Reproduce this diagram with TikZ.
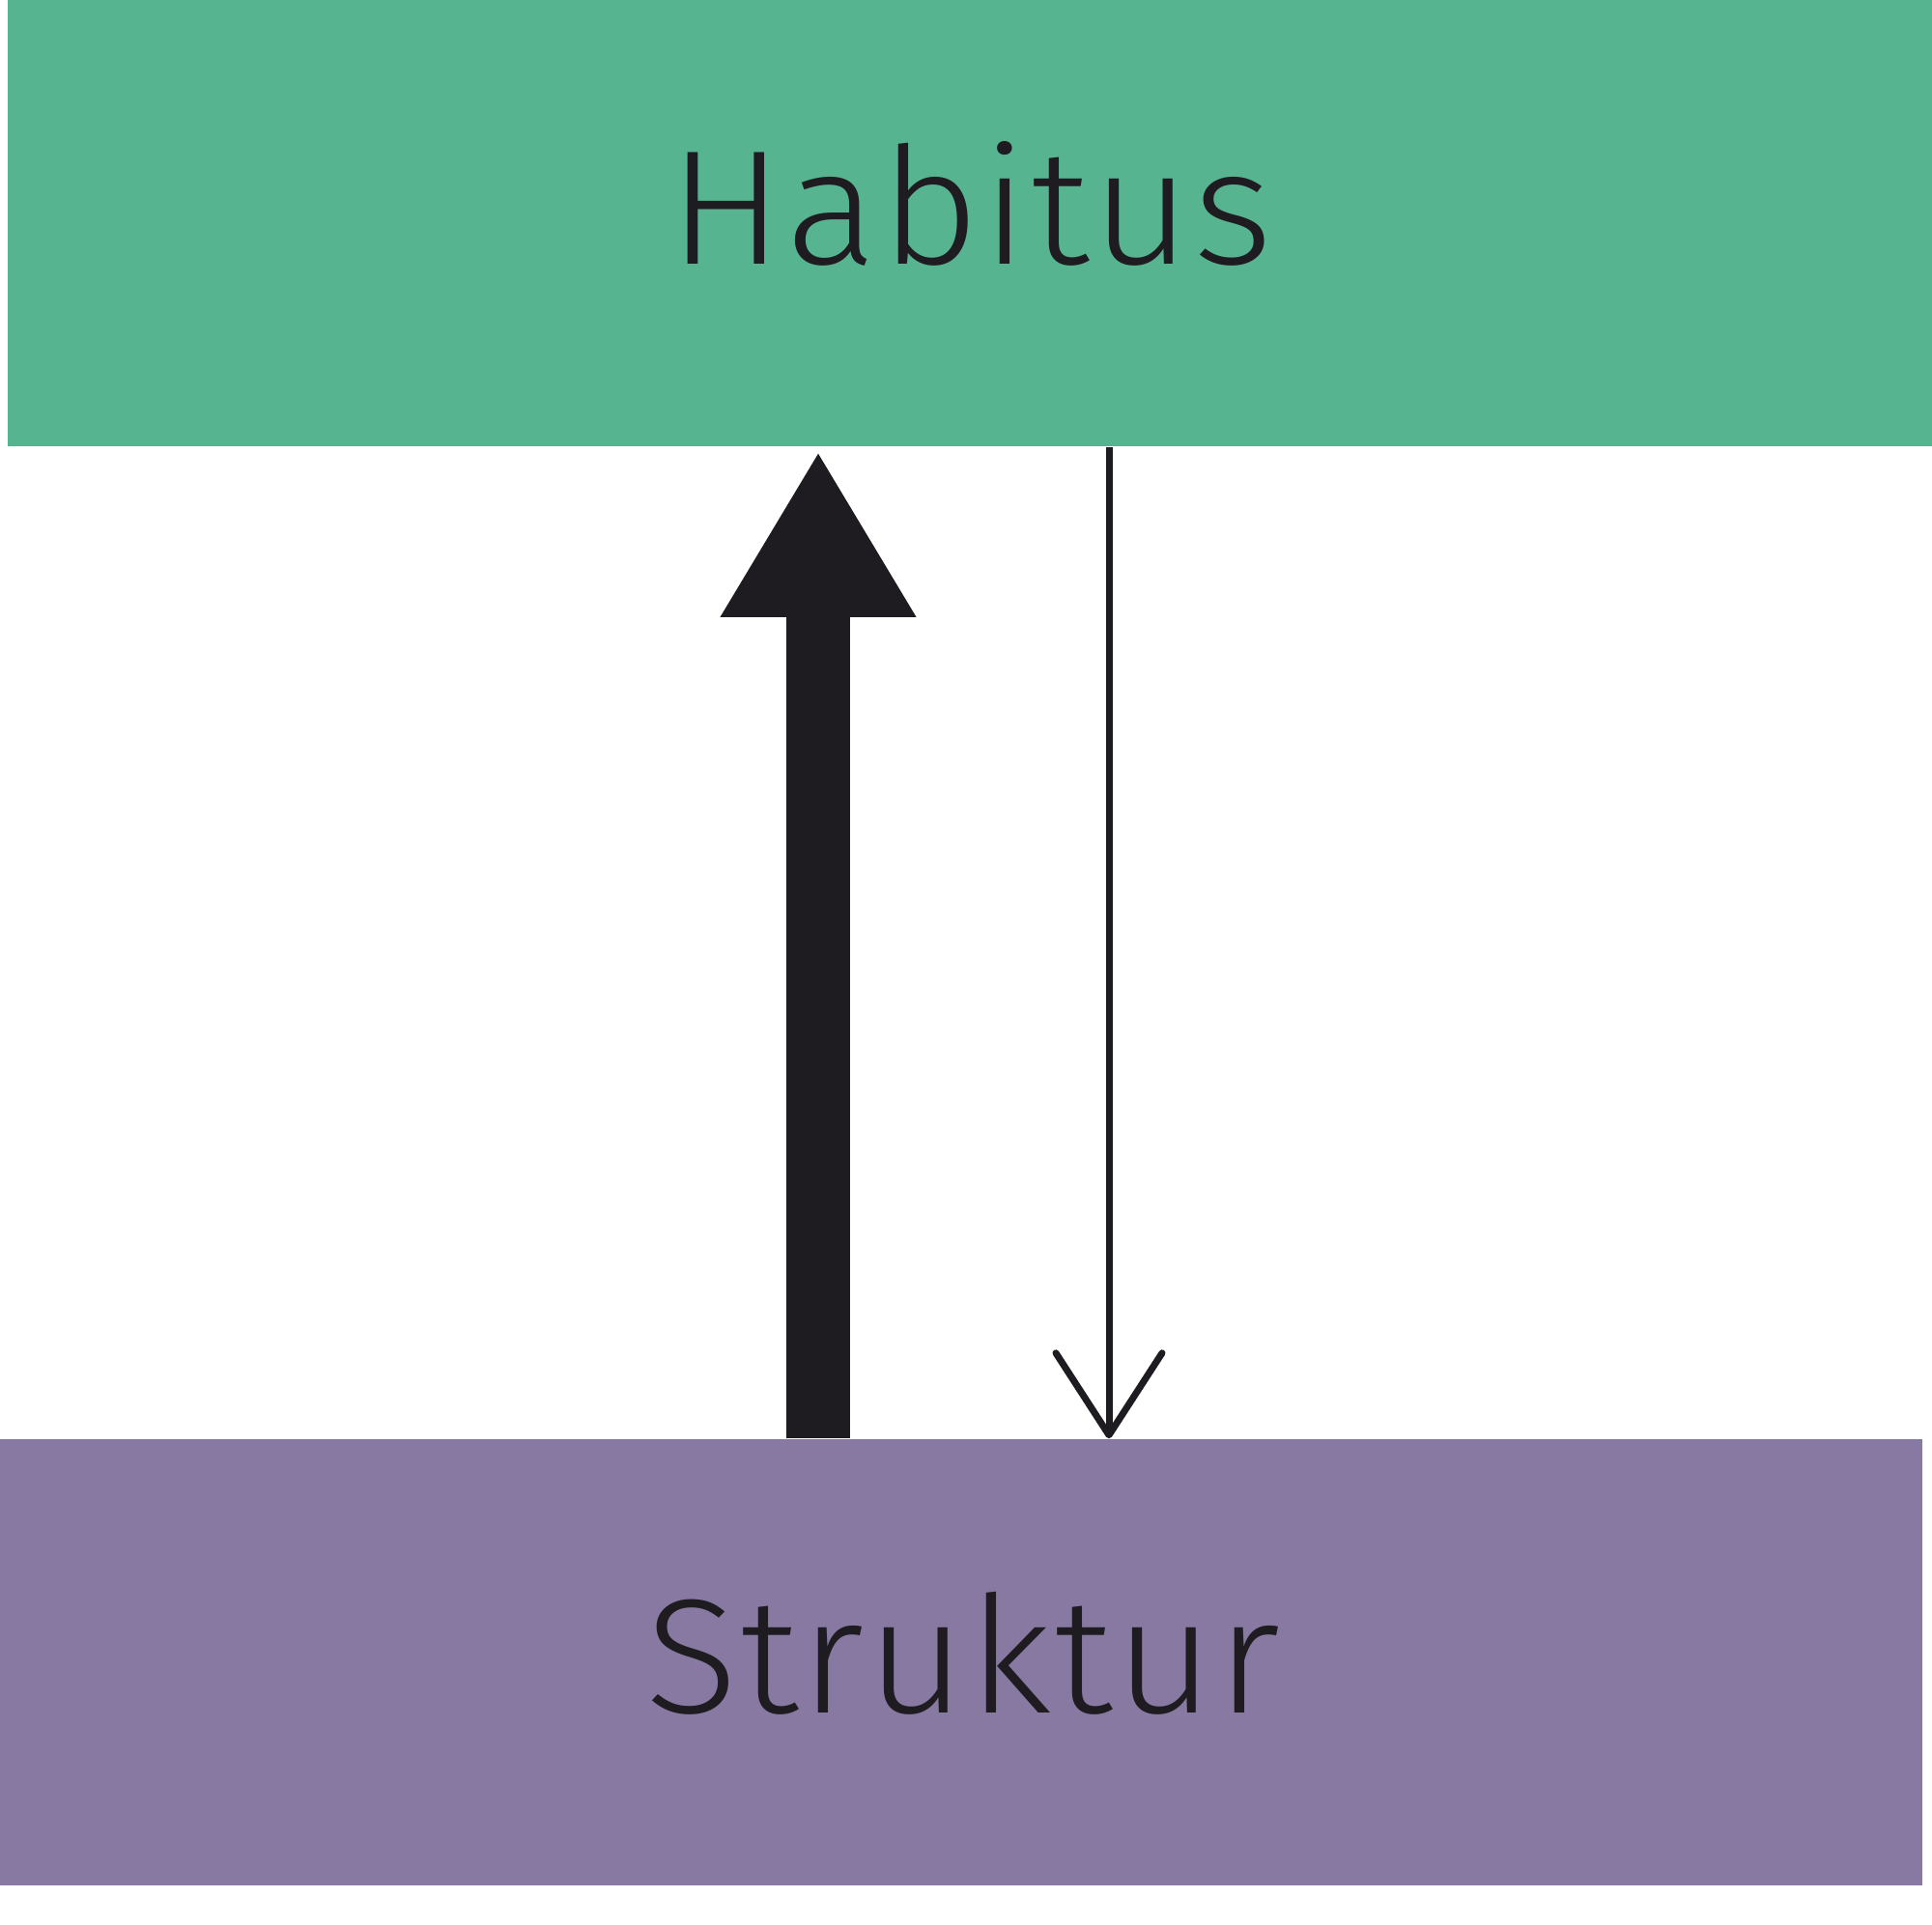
\documentclass[tikz,border=0pt]{standalone}
\usepackage{fontspec}
\setmainfont{Fira Sans}[UprightFont={* Light}, FakeStretch=1.05, LetterSpace=1.5]
\usetikzlibrary{arrows.meta}
\usetikzlibrary{calc}
\definecolor{habitusgreen}{RGB}{87,180,145}
\definecolor{strukturpurple}{RGB}{136,121,163}
\definecolor{arrowblack}{RGB}{30,28,32}

\begin{document}
\begin{tikzpicture}[
    bar/.style={rectangle, inner sep=0pt, minimum height=4.62cm},
    bartext/.style={anchor=base, inner sep=0pt, text=arrowblack, font=\fontsize{48}{50}\selectfont},
  ]
  \useasboundingbox (0,0) rectangle (20,-19.93);

  \node[bar, fill=habitusgreen, minimum width=19.92cm] (habitus) at (10.04,-2.31) {};
  \node[bar, fill=strukturpurple, minimum width=19.9cm] (struktur) at (9.95,-17.21) {};
  \node[bartext] (habituslabel) at (10.05,-2.74) {Habitus};
  \node[bartext] (strukturlabel) at (9.97,-17.73) {Struktur};

  % arrows
  \coordinate (bigtip) at (8.47,-4.67);
  \coordinate (thinx) at (11.48,0);
  \draw[arrowblack, line width=0.66cm, -{Triangle[length=1.72cm, width=1.9cm]}] (struktur.north -| bigtip) -- (bigtip);
  \draw[arrowblack, line width=0.07cm, -{Straight Barb[length=0.85cm, width=1.1cm, round]}] (habitus.south -| thinx) -- (struktur.north -| thinx);
\end{tikzpicture}
\end{document}
